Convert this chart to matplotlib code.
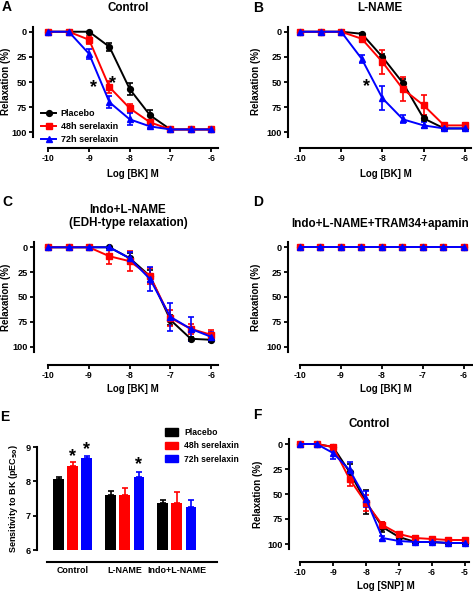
import matplotlib
matplotlib.use('Agg')
import matplotlib.pyplot as plt
from matplotlib.patches import Patch
from matplotlib.lines import Line2D

plt.rcParams['font.family'] = ['Liberation Sans', 'DejaVu Sans']
plt.rcParams['font.weight'] = 'bold'
plt.rcParams['axes.labelweight'] = 'bold'
plt.rcParams['axes.titleweight'] = 'bold'

# ---------------- data ----------------
log_bk = [-10, -9.5, -9, -8.5, -8, -7.5, -7, -6.5, -6]
log_snp = [-10, -9.5, -9, -8.5, -8, -7.5, -7, -6.5, -6, -5.5, -5]
series_names = ['Placebo', '48h serelaxin', '72h serelaxin']

# Panel A: Control
a_placebo = [0, 0, 0, 15, 57, 83, 97, 97, 97]
a_placebo_err = [0, 0, 0, 4, 6, 5, 1, 1, 1]
a_48h = [0, 0, 8, 55, 76, 90, 97, 97, 97]
a_48h_err = [0, 0, 4, 6, 4, 2, 1, 1, 1]
a_72h = [0, 0, 22, 70, 87, 94, 97, 97, 97]
a_72h_err = [0, 0, 5, 6, 6, 2, 1, 1, 1]

# Panel B: L-NAME
b_placebo = [0, 0, 0, 2, 25, 51, 86, 96, 96]
b_placebo_err = [0, 0, 0, 1, 3, 4, 3, 1, 1]
b_48h = [0, 0, 0, 7, 30, 57, 73, 93, 93]
b_48h_err = [0, 0, 0, 2, 12, 12, 10, 2, 2]
b_72h = [0, 0, 0, 27, 66, 87, 93, 96, 96]
b_72h_err = [0, 0, 0, 4, 12, 4, 3, 2, 2]

# Panel C: Indo+L-NAME
c_placebo = [0, 0, 0, 0, 11, 29, 73, 92, 93]
c_placebo_err = [0, 0, 0, 0, 5, 6, 5, 2, 2]
c_48h = [0, 0, 0, 9, 14, 29, 71, 82, 88]
c_48h_err = [0, 0, 0, 8, 10, 8, 8, 5, 5]
c_72h = [0, 0, 0, 0, 11, 32, 70, 82, 90]
c_72h_err = [0, 0, 0, 0, 6, 12, 14, 12, 5]

# Panel D: Indo+L-NAME+TRAM34+apamin
d_placebo = [0, 0, 0, 0, 0, 0, 0, 0, 0]
d_48h = [0, 0, 0, 0, 0, 0, 0, 0, 0]
d_72h = [0, 0, 0, 0, 0, 0, 0, 0, 0]
d_err = [0, 0, 0, 0, 0, 0, 0, 0, 0]

# Panel E: pEC50
e_groups = ['Control', 'L-NAME', 'Indo+L-NAME']
e_placebo = [8.07, 7.61, 7.36]
e_placebo_err = [0.07, 0.10, 0.10]
e_48h = [8.45, 7.61, 7.36]
e_48h_err = [0.10, 0.20, 0.32]
e_72h = [8.68, 8.14, 7.25]
e_72h_err = [0.05, 0.12, 0.20]

# Panel F: SNP control
f_placebo = [0, 0, 3, 28, 58, 83, 93, 98, 98, 99, 99]
f_placebo_err = [0, 0, 2, 8, 12, 5, 2, 1, 1, 1, 1]
f_48h = [0, 0, 3, 35, 59, 81, 90, 94, 95, 96, 96]
f_48h_err = [0, 0, 2, 7, 8, 3, 2, 2, 1, 1, 1]
f_72h = [0, 0, 9, 26, 55, 94, 97, 98, 98, 99, 99]
f_72h_err = [0, 0, 6, 8, 8, 2, 1, 1, 1, 1, 1]

colors = ['#000000', '#ff0000', '#0000ff']
markers = ['o', 's', '^']
msizes = [4.2, 4.2, 4.8]

# ---------------- figure ----------------
W, H = 473, 592
fig = plt.figure(figsize=(W / 100, H / 100), dpi=100)


def rect(left, top, right, bottom):
    return [left / W, 1 - bottom / H, (right - left) / W, (bottom - top) / H]


def ftext(x, y, s, **kw):
    fig.text(x / W, 1 - y / H, s, **kw)


YTICK_FS = 6.6
XTICK_FS = 6.2
LAB_FS = 7.0


def style_axes(ax, offset_px):
    for s in ['top', 'right']:
        ax.spines[s].set_visible(False)
    for s in ['left', 'bottom']:
        ax.spines[s].set_linewidth(1.5)
    ax.spines['bottom'].set_position(('outward', offset_px * 0.72))
    ax.tick_params(axis='both', direction='out', length=3, width=1.3, pad=1.5)
    ax.tick_params(axis='y', labelsize=YTICK_FS)
    ax.tick_params(axis='x', labelsize=XTICK_FS)
    for lab in ax.get_xticklabels() + ax.get_yticklabels():
        lab.set_fontweight('bold')


def curve_panel(box, xlim, x, ys, errs, xticks, xend, offset_px):
    ax = fig.add_axes(rect(*box))
    for y, e, c, m, ms in zip(ys, errs, colors, markers, msizes):
        ax.errorbar(x, y, yerr=e, color=c, marker=m, ms=ms, lw=1.4,
                    elinewidth=1.2, capsize=2.5, capthick=1.2, clip_on=False)
    ax.set_xlim(*xlim)
    ax.set_ylim(105, -5)
    ax.set_yticks([0, 25, 50, 75, 100])
    ax.set_xticks(xticks)
    ax.set_xticklabels([str(t) for t in xticks])
    ax.spines['bottom'].set_bounds(xticks[0], xend)
    style_axes(ax, offset_px)
    return ax


STAR_FS = 13

# Panel A
axA = curve_panel((33, 26.7, 218, 137.5), (-10.38, -5.83), log_bk,
                  [a_placebo, a_48h, a_72h], [a_placebo_err, a_48h_err, a_72h_err],
                  [-10, -9, -8, -7, -6], -5.83, 10)
axA.text(-8.89, 55, '*', fontsize=STAR_FS, ha='center', va='center', fontweight='bold')
axA.text(-8.42, 51, '*', fontsize=STAR_FS, ha='center', va='center', fontweight='bold')
handles = [Line2D([], [], color=c, marker=m, ms=ms, lw=1.4) for c, m, ms in zip(colors, markers, msizes)]
axA.legend(handles, series_names, loc='upper left', bbox_to_anchor=(41 / W, 1 - 109 / H),
           bbox_transform=fig.transFigure, frameon=False,
           handlelength=1.7, handletextpad=0.5, labelspacing=0.45, borderpad=0,
           borderaxespad=0, prop={'weight': 'bold', 'size': 6.5})

# Panel B
axB = curve_panel((288, 26.7, 471, 137.5), (-10.29, -5.85), log_bk,
                  [b_placebo, b_48h, b_72h], [b_placebo_err, b_48h_err, b_72h_err],
                  [-10, -9, -8, -7, -6], -5.85, 10)
axB.text(-8.39, 54, '*', fontsize=STAR_FS, ha='center', va='center', fontweight='bold')

# Panel C
axC = curve_panel((34, 242.3, 218, 351.7), (-10.35, -5.83), log_bk,
                  [c_placebo, c_48h, c_72h], [c_placebo_err, c_48h_err, c_72h_err],
                  [-10, -9, -8, -7, -6], -5.83, 13)

# Panel D
axD = curve_panel((288, 242.3, 472, 351.7), (-10.29, -5.8), log_bk,
                  [d_placebo, d_48h, d_72h], [d_err, d_err, d_err],
                  [-10, -9, -8, -7, -6], -5.8, 13)

# Panel F
axF = curve_panel((289, 439, 469, 549), (-10.34, -4.87), log_snp,
                  [f_placebo, f_48h, f_72h], [f_placebo_err, f_48h_err, f_72h_err],
                  [-10, -9, -8, -7, -6, -5], -4.87, 13)

# Panel E bars
axE = fig.add_axes(rect(37, 447, 217, 550))
gx = range(len(e_groups))
off = 0.27
bw = 0.21
for k, (vals, errs) in enumerate([(e_placebo, e_placebo_err), (e_48h, e_48h_err), (e_72h, e_72h_err)]):
    xs = [g + (k - 1) * off for g in gx]
    heights = [v - 6 for v in vals]
    axE.bar(xs, heights, bottom=6, width=bw, color=colors[k], edgecolor=colors[k], lw=0,
            yerr=[[0] * len(errs), errs], ecolor=colors[k],
            error_kw=dict(elinewidth=1.2, capsize=2.5, capthick=1.2))
axE.set_xlim(-0.69, 2.77)
axE.set_ylim(6, 9)
axE.set_yticks([6, 7, 8, 9])
axE.set_xticks(list(gx))
axE.set_xticklabels(e_groups)
style_axes(axE, 12)
axE.spines['bottom'].set_bounds(-0.5, 2.77)
axE.tick_params(axis='x', length=0, pad=3, labelsize=6.4)
axE.text(0.0, 8.71, '*', fontsize=STAR_FS, ha='center', va='center', fontweight='bold')
axE.text(0.27, 8.91, '*', fontsize=STAR_FS, ha='center', va='center', fontweight='bold')
axE.text(1.27, 8.48, '*', fontsize=STAR_FS, ha='center', va='center', fontweight='bold')
axE.set_ylabel('Sensitivity to BK (pEC$_{50}$)', fontsize=6.5, fontweight='bold', labelpad=4)
phandles = [Patch(facecolor=c, edgecolor=c) for c in colors]
axE.legend(phandles, series_names, loc='upper left', bbox_to_anchor=(165 / W, 1 - 428 / H),
           bbox_transform=fig.transFigure, frameon=False,
           handlelength=1.5, handleheight=0.9, handletextpad=0.7, labelspacing=0.5,
           borderpad=0, borderaxespad=0, prop={'weight': 'bold', 'size': 6.2})

# Titles, letters, axis labels
TFS = 8.4
ftext(128, 8, 'Control', fontsize=TFS, ha='center', va='center', fontweight='bold')
ftext(380, 8, 'L-NAME', fontsize=TFS, ha='center', va='center', fontweight='bold')
ftext(128, 210, 'Indo+L-NAME', fontsize=TFS, ha='center', va='center', fontweight='bold')
ftext(128, 223, '(EDH-type relaxation)', fontsize=TFS, ha='center', va='center', fontweight='bold')
ftext(380, 224, 'Indo+L-NAME+TRAM34+apamin', fontsize=TFS, ha='center', va='center', fontweight='bold')
ftext(369, 424, 'Control', fontsize=TFS, ha='center', va='center', fontweight='bold')

LFS = 10
for x, y, s in [(7, 7, 'A'), (258, 8, 'B'), (7, 202, 'C'), (258, 202, 'D'), (5, 417, 'E'), (257, 415, 'F')]:
    ftext(x, y, s, fontsize=LFS, ha='center', va='center', fontweight='bold')

for x, y, s in [(133, 174, 'Log [BK] M'), (386, 174, 'Log [BK] M'),
                (133, 389, 'Log [BK] M'), (386, 389, 'Log [BK] M'),
                (386, 586, 'Log [SNP] M')]:
    ftext(x, y, s, fontsize=LAB_FS, ha='center', va='center', fontweight='bold')

for x, y in [(6, 81), (256, 81), (6, 297), (256, 297), (258, 494)]:
    ftext(x, y, 'Relaxation (%)', fontsize=LAB_FS, ha='center', va='center',
          rotation=90, fontweight='bold')

fig.savefig('out.png', dpi=100)
